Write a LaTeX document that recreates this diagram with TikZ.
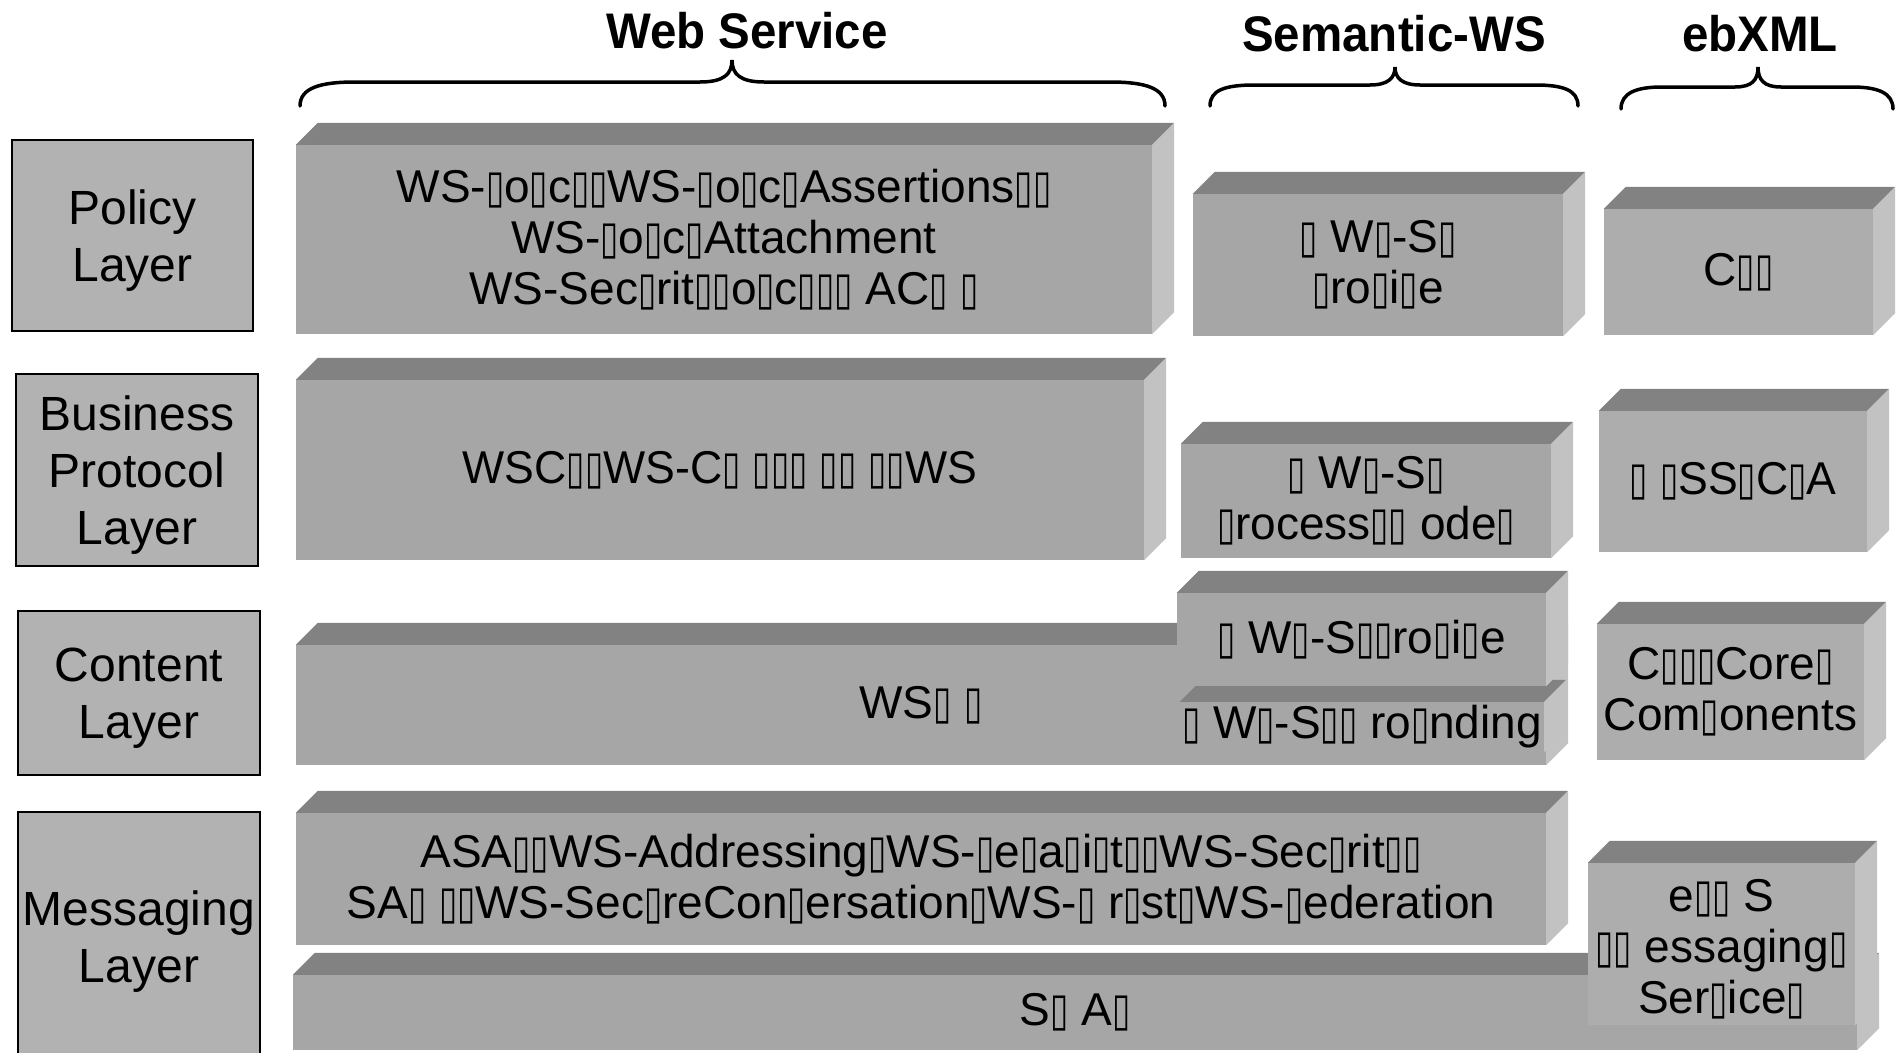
\documentclass[tikz,border=0pt]{standalone}
\usepackage{fontspec}
\setmainfont{Liberation Sans}
\newfontfamily\headfont[FakeStretch=0.95]{Liberation Sans}
\newfontfamily\boxfont{Liberation Sans}
\newfontfamily\boxnarrow[FakeStretch=0.97]{Liberation Sans}
\newfontfamily\tofufont[FakeStretch=0.72]{DejaVu Sans}
% placeholder glyph box
\newcommand\tb{{\tofufont ▯}}

\definecolor{labelgray}{RGB}{178,178,178}
\definecolor{frontgray}{RGB}{166,166,166}
\definecolor{frontlight}{RGB}{173,173,173}
\definecolor{topgray}{RGB}{130,130,130}
\definecolor{sidegray}{RGB}{194,194,194}

\tikzset{
  labelbox/.style={draw=black, line width=1.5pt, fill=labelgray, inner sep=0pt,
    align=center, font=\fontsize{48}{57}\selectfont},
  face/.style={fill=frontgray, inner sep=0pt, align=center,
    font=\boxfont\fontsize{46}{51}\selectfont},
  narrowtext/.style={font=\boxnarrow\fontsize{46}{51}\selectfont},
  facetext/.style={inner sep=0pt, align=center, font=\boxfont\fontsize{46}{51}\selectfont},
  header/.style={inner sep=0pt, anchor=base, font=\headfont\bfseries\fontsize{50}{60}\selectfont},
  brace/.style={draw=black, line width=3.5pt, line cap=round},
  labeltext/.style={inner sep=0pt, align=center, font=\fontsize{48}{57}\selectfont},
}

% top and right faces of a slab
\newcommand\extrude[1]{%
  \fill[topgray] (#1.north west) -- ++(22,-22) -- ([shift={(22,-22)}]#1.north east) -- (#1.north east) -- cycle;
  \fill[sidegray] (#1.north east) -- ++(22,-22) -- ([shift={(22,-22)}]#1.south east) -- (#1.south east) -- cycle;}
% slab: [style] name, x1, y1, x2, y2, text
\newcommand\slab[7][]{%
  \node[face,#1,minimum width={(#5-#3)*1pt},minimum height={(#6-#4)*1pt}]
    (#2) at ({(#3+#5)/2},{(#4+#6)/2}) {#7};
  \extrude{#2}}
% layer label: name, x1, y1, x2, y2, text
\newcommand\layerlabel[6]{%
  \node[labelbox,minimum width={(#4-#2)*1pt},minimum height={(#5-#3)*1pt}]
    (#1) at ({(#2+#4)/2},{(#3+#5)/2}) {};
  \node[labeltext] (#1-t) at ([yshift=-5pt]#1.center) {#6};}

\begin{document}
\begin{tikzpicture}[x=1pt,y=-1pt]
\useasboundingbox (0,0) rectangle (1897,1052);
\clip (0,0) rectangle (1897,1052);

% column headers
\node[header] (hws) at (747,48) {Web Service};
\node[header] (hsem) at (1394,51) {Semantic-WS};
\node[header] (heb) at (1760,51) {ebXML};

% braces
\draw[brace] (300,106) .. controls (300,88) and (320,82) .. (355,82) -- (700,82)
  .. controls (724,82) and (732,74) .. (732,60) .. controls (732,74) and (740,82) .. (764,82)
  -- (1110,82) .. controls (1145,82) and (1165,88) .. (1165,106);
\draw[brace] (1210,106) .. controls (1210,90) and (1225,85) .. (1255,85) -- (1370,85)
  .. controls (1388,85) and (1395,78) .. (1395,67) .. controls (1395,78) and (1402,85) .. (1420,85)
  -- (1535,85) .. controls (1563,85) and (1578,90) .. (1578,106);
\draw[brace] (1621,109) .. controls (1621,93) and (1636,87) .. (1662,87) -- (1735,87)
  .. controls (1752,87) and (1758,80) .. (1758,67) .. controls (1758,80) and (1764,87) .. (1781,87)
  -- (1852,87) .. controls (1878,87) and (1893,93) .. (1893,109);

% layer labels
\layerlabel{lpol}{12}{140}{253}{331}{Policy\\Layer}
\layerlabel{lbus}{16}{374}{258}{566}{Business\\Protocol\\Layer}
\layerlabel{lcon}{18}{611}{260}{775}{Content\\Layer}
\layerlabel{lmsg}{18}{812}{260}{1062}{Messaging\\Layer}

% policy layer
\slab{wspol}{296}{145}{1152}{334}{WS-\tb o\tb c\tb\tb WS-\tb o\tb c\tb Assertions\tb\tb\\
  WS-\tb o\tb c\tb Attachment\\WS-Sec\tb rit\tb\tb o\tb c\tb\tb\tb\ AC\tb\ \tb}
\slab{sempol}{1193}{194}{1563}{336}{\tb\ W\tb-S\tb\\\tb ro\tb i\tb e}
\slab[fill=frontlight]{ebpol}{1604}{209}{1873}{335}{C\tb\tb}

% business protocol layer
\slab[narrowtext]{wsbus}{296}{380}{1144}{560}{WSC\tb\tb WS-C\tb\ \tb\tb\tb\ \tb\tb\ \tb\tb WS}
\slab{sembus}{1181}{444}{1551}{558}{\tb\ W\tb-S\tb\\\tb rocess\tb\tb\ ode\tb}
\slab[fill=frontlight,narrowtext]{ebbus}{1599}{411}{1867}{552}{\tb\ \tb SS\tb C\tb A}

% content layer
\slab{wscon}{296}{645}{1546}{765}{WS\tb\ \tb}
\slab{semgr}{1180}{702}{1544}{752}{\tb\ W\tb-S\tb\tb\ ro\tb nding}
\slab{sempro}{1177}{593}{1546}{686}{\tb\ W\tb-S\tb\tb ro\tb i\tb e}
\slab[fill=frontlight]{ebcon}{1597}{624}{1864}{760}{C\tb\tb\tb Core\tb\\Com\tb onents}

% messaging layer
\slab{wsmsg}{296}{813}{1546}{945}{ASA\tb\tb WS-Addressing\tb WS-\tb e\tb a\tb i\tb t\tb\tb WS-Sec\tb rit\tb\tb\\
  SA\tb\ \tb\tb WS-Sec\tb reCon\tb ersation\tb WS-\tb\ r\tb st\tb WS-\tb ederation}
\slab{soap}{293}{975}{1857}{1050}{S\tb\ A\tb}
\slab[fill=frontlight]{ebms}{1588}{863}{1855}{1025}{}
\node[facetext] (ebms-t) at ([yshift=-5pt]ebms.center) {e\tb\tb\ S\\\tb\tb\ essaging\tb\\Ser\tb ice\tb};
\end{tikzpicture}
\end{document}
